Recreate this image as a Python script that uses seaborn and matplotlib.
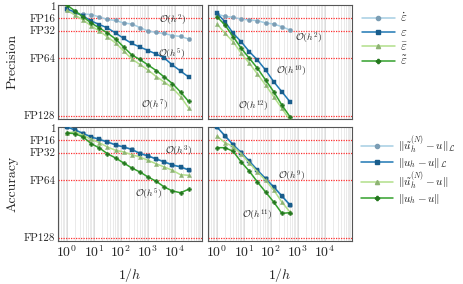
import matplotlib
matplotlib.use('Agg')
import matplotlib.pyplot as plt
import seaborn as sns
import pandas as pd
from matplotlib.lines import Line2D

# 1/h values (doubling refinement)
inv_h = [1, 2, 4, 8, 16, 32, 64, 128, 256, 512, 1024, 2048, 4096, 8192, 16384, 32768]
inv_h_hi = inv_h[:10]

# precision, low order (top left)
edot_lo = [4.2e-2, 7.1e-3, 3.5e-3, 2.4e-3, 4.2e-4, 7.1e-5, 3.5e-5, 5.9e-6, 2.9e-6, 2.4e-7,
           2.0e-8, 7.1e-9, 3.5e-9, 8.3e-10, 4.2e-10, 7.1e-11]
eps_lo = [1.2e-1, 1.4e-2, 8.3e-4, 2.4e-5, 2.0e-6, 1.7e-7, 4.9e-9, 1.0e-10, 2.9e-12, 2.4e-13,
          2.0e-14, 1.7e-15, 1.0e-16, 7.1e-19, 1.0e-20, 1.4e-22]
epsbar_lo = [4.2e-2, 1.7e-3, 4.9e-5, 7.1e-7, 2.0e-8, 2.9e-10, 4.2e-12, 1.4e-14, 4.9e-17, 1.0e-18,
             2.0e-20, 2.0e-22, 4.2e-24, 5.9e-26, 1.4e-28, 4.2e-32]
epstil_lo = [2.0, 2.9e-2, 4.2e-4, 5.9e-6, 1.7e-7, 4.9e-9, 7.1e-11, 2.4e-13, 8.3e-16, 3.5e-17,
             7.1e-19, 1.4e-20, 1.4e-22, 1.4e-24, 3.5e-27, 4.2e-30]

# precision, high order (top right)
edot_hi = [3.5e-3, 5.9e-4, 3.3e-4, 1.0e-4, 4.9e-5, 3.0e-5, 5.9e-6, 2.9e-6, 4.3e-7, 4.2e-8]
eps_hi = [5.6e-3, 1.5e-5, 4.0e-9, 1.0e-11, 8.7e-15, 2.4e-17, 2.0e-20, 5.1e-24, 4.3e-27, 3.5e-30]
epsbar_hi = [2.9e-6, 4.0e-9, 1.0e-11, 2.8e-15, 2.3e-18, 1.2e-21, 4.9e-25, 1.2e-28, 3.3e-32, 8.3e-36]
epstil_hi = [5.1e-4, 1.4e-6, 3.5e-10, 9.5e-14, 8.1e-17, 6.8e-20, 1.7e-23, 4.3e-27, 3.5e-31, 8.7e-35]

# accuracy, low order (bottom left)
errNL_lo = [2.4, 3.0e-1, 2.5e-2, 2.1e-3, 3.7e-4, 6.0e-5, 7.5e-6, 1.8e-6, 3.0e-7, 1.8e-8,
            3.0e-9, 3.6e-10, 4.4e-11, 5.2e-12, 1.3e-12, 1.5e-13]
errL_lo = [2.0, 2.4e-1, 2.0e-2, 1.7e-3, 2.9e-4, 4.9e-5, 5.9e-6, 1.4e-6, 2.4e-7, 1.4e-8,
           2.4e-9, 2.9e-10, 3.5e-11, 4.2e-12, 1.0e-12, 1.2e-13]
errN_lo = [3.5e-2, 5.9e-2, 5.6e-3, 3.3e-4, 3.0e-5, 1.4e-6, 1.4e-7, 4.2e-8, 6.0e-9, 1.2e-9,
           1.1e-10, 1.0e-11, 1.0e-12, 9.5e-14, 4.3e-15, 2.8e-15]
err_lo = [2.9e-2, 1.8e-2, 1.7e-3, 1.5e-5, 7.1e-7, 1.2e-8, 5.9e-10, 1.7e-11, 4.9e-13, 2.9e-14,
          8.3e-16, 4.0e-17, 7.1e-19, 4.2e-20, 1.2e-20, 1.4e-19]

# accuracy, high order (bottom right)
errNL_hi = [2.4, 4.5e-3, 9.0e-6, 3.2e-8, 7.0e-11, 1.2e-13, 3.2e-16, 9.0e-19, 1.5e-21, 2.6e-24]
errL_hi = [2.0, 3.5e-3, 7.2e-6, 2.5e-8, 5.6e-11, 9.5e-14, 2.5e-16, 7.1e-19, 1.2e-21, 2.0e-24]
errN_hi = [3.5e-3, 3.0e-5, 2.0e-6, 1.0e-8, 1.7e-11, 2.9e-14, 7.1e-17, 8.3e-20, 1.7e-23, 1.4e-26]
err_hi = [8.7e-7, 8.7e-7, 6.8e-8, 3.5e-11, 4.8e-14, 2.4e-17, 2.0e-20, 1.7e-23, 5.6e-27, 8.7e-27]

fp_labels = ['1', 'FP16', 'FP32', 'FP64', 'FP128']
fp_values = [1.0, 1.7e-4, 2.5e-8, 8.1e-17, 1.8e-34]

prec_names = [r'$\dot{\varepsilon}$', r'$\varepsilon$', r'$\bar{\varepsilon}$', r'$\tilde{\varepsilon}$']
acc_names = [r'$\|\tilde{u}_h^{(N)}-u\|_{\mathcal{L}}$', r'$\|u_h-u\|_{\mathcal{L}}$',
             r'$\|\tilde{u}_h^{(N)}-u\|$', r'$\|u_h-u\|$']

sns.set_theme(style='white')
plt.rcParams['font.family'] = 'serif'
plt.rcParams['font.serif'] = ['cmr10']
plt.rcParams['mathtext.fontset'] = 'cm'
plt.rcParams['axes.formatter.use_mathtext'] = True

colors = sns.color_palette('Paired', 4)
mcolors = ['#7b9db4', '#195d8c', '#8db373', '#24771e']
markers = ['o', 's', '^', 'P']

fig = plt.figure(figsize=(4.63, 2.84), dpi=100)
W, H = 463, 284
def add_ax(x0, y_top):
    return fig.add_axes([x0 / W, (H - y_top - 114.3) / H, 143.4 / W, 114.3 / H])

ax_tl = add_ax(58.3, 4.7)
ax_tr = add_ax(208.3, 4.7)
ax_bl = add_ax(58.3, 126.7)
ax_br = add_ax(208.3, 126.7)

panels = [
    (ax_tl, inv_h, [edot_lo, eps_lo, epsbar_lo, epstil_lo]),
    (ax_tr, inv_h_hi, [edot_hi, eps_hi, epsbar_hi, epstil_hi]),
    (ax_bl, inv_h, [errNL_lo, errL_lo, errN_lo, err_lo]),
    (ax_br, inv_h_hi, [errNL_hi, errL_hi, errN_hi, err_hi]),
]

for ax, xs, series in panels:
    ax.set_xscale('log')
    ax.set_yscale('log')
    for i, ys in enumerate(series):
        df = pd.DataFrame({'inv_h': xs, 'err': ys})
        sns.lineplot(data=df, x='inv_h', y='err', ax=ax, color=colors[i], lw=1.1,
                     marker=markers[i], markersize=3.0, markerfacecolor=mcolors[i],
                     markeredgecolor=mcolors[i], markeredgewidth=0.3, zorder=3)
    for v in fp_values[1:]:
        ax.axhline(v, color='#ff3030', ls=(0, (1, 1)), lw=0.9, zorder=1)
    ax.set_xlim(0.48, 1e5)
    ax.set_ylim(1.7e-35, 2.5)
    ax.set_xticks([1, 10, 100, 1000, 10000])
    ax.xaxis.set_minor_locator(matplotlib.ticker.LogLocator(base=10, subs=range(2, 10), numticks=20))
    ax.set_yticks(fp_values)
    ax.set_yticklabels(fp_labels)
    ax.yaxis.set_minor_locator(matplotlib.ticker.NullLocator())
    ax.grid(True, which='major', axis='x', color='#d6d6d6', lw=0.6, zorder=0)
    ax.grid(True, which='minor', axis='x', color='#e2e2e2', lw=0.5, zorder=0)
    ax.tick_params(axis='both', which='both', length=0, pad=2)
    ax.tick_params(axis='y', labelsize=8)
    ax.tick_params(axis='x', labelsize=10)
    ax.set_xlabel('')
    ax.set_ylabel('')
    for s in ax.spines.values():
        s.set_color('#555555')
        s.set_linewidth(0.8)

for ax in (ax_tl, ax_tr):
    ax.tick_params(axis='x', labelbottom=False)
for ax in (ax_tr, ax_br):
    ax.tick_params(axis='y', labelleft=False)

ax_tl.set_ylabel('Precision', fontsize=10, labelpad=4)
ax_bl.set_ylabel('Accuracy', fontsize=10, labelpad=4)
ax_bl.set_xlabel(r'$1/h$', fontsize=10, labelpad=5)
ax_br.set_xlabel(r'$1/h$', fontsize=10, labelpad=5)

# convergence rate annotations
notes = [
    (ax_tl, 0.80, 0.866, 2), (ax_tl, 0.79, 0.575, 5), (ax_tl, 0.674, 0.122, 7),
    (ax_tr, 0.70, 0.706, 2), (ax_tr, 0.58, 0.414, 10), (ax_tr, 0.313, 0.108, 12),
    (ax_bl, 0.842, 0.785, 3), (ax_bl, 0.633, 0.414, 5),
    (ax_br, 0.578, 0.5625, 9), (ax_br, 0.3425, 0.227, 11),
]
for ax, xf, yf, p in notes:
    ax.text(xf, yf, r'$\mathcal{O}(h^{%d})$' % p, transform=ax.transAxes,
            ha='center', va='center', fontsize=7, color='#222222')

def make_handles(names):
    return [Line2D([], [], color=colors[i], lw=1.1, marker=markers[i], markersize=3.0,
                   markerfacecolor=mcolors[i], markeredgecolor=mcolors[i], label=n)
            for i, n in enumerate(names)]

ax_tr.legend(handles=make_handles(prec_names), loc='upper left', bbox_to_anchor=(1.02, 1.0),
             frameon=False, fontsize=9, handlelength=2.6, handletextpad=0.4,
             labelspacing=0.15, borderaxespad=0.2)
ax_br.legend(handles=make_handles(acc_names), loc='upper left', bbox_to_anchor=(1.02, 1.0),
             frameon=False, fontsize=8, handlelength=2.9, handletextpad=0.4,
             labelspacing=0.0, borderaxespad=0.2)

fig.savefig('out.png', dpi=100)
